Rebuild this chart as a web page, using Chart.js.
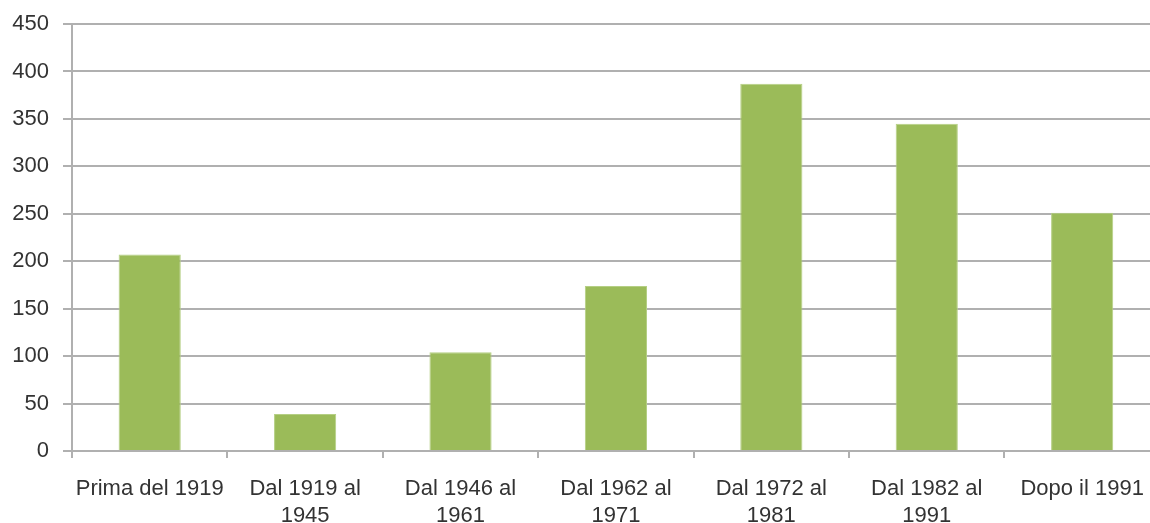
<!DOCTYPE html>
<html>
<head>
<meta charset="utf-8">
<script src="https://cdn.jsdelivr.net/npm/chart.js@4"></script>
<style>
  html, body { margin: 0; padding: 0; background: #fff; }
  #wrap { width: 1150px; height: 523px; overflow: hidden; }
</style>
</head>
<body>
<div id="wrap">
  <canvas id="myChart" width="1162" height="523"></canvas>
</div>
<script>
const categories = [
  'Prima del 1919',
  ['Dal 1919 al', '1945'],
  ['Dal 1946 al', '1961'],
  ['Dal 1962 al', '1971'],
  ['Dal 1972 al', '1981'],
  ['Dal 1982 al', '1991'],
  'Dopo il 1991'
];
const values = [207, 39, 104, 174, 387, 345, 251];
const yTicks = [0, 50, 100, 150, 200, 250, 300, 350, 400, 450];

const gridColor = '#b0b0b0';
const textColor = '#333333';
const fontFamily = '"Liberation Sans", Arial, sans-serif';

const config = {
  type: 'bar',
  data: {
    labels: categories,
    datasets: [{
      data: values,
      backgroundColor: '#9bbb59',
      borderColor: '#b5cf84',
      borderWidth: 1,
      barPercentage: 0.4,
      categoryPercentage: 1
    }]
  },
  options: {
    responsive: false,
    animation: false,
    layout: {
      padding: { top: 24, left: 0, right: 1, bottom: 0 }
    },
    scales: {
      x: {
        grid: {
          display: true,
          drawOnChartArea: false,
          color: gridColor,
          lineWidth: 2,
          tickLength: 7
        },
        border: { color: gridColor, width: 2 },
        ticks: {
          color: textColor,
          padding: 18,
          maxRotation: 0,
          autoSkip: false,
          font: { family: fontFamily, size: 22, lineHeight: 1.2 }
        },
        afterFit: (scale) => { scale.height = 72; }
      },
      y: {
        min: 0,
        max: 450,
        afterBuildTicks: (scale) => {
          scale.ticks = yTicks.map(v => ({ value: v }));
        },
        grid: {
          color: gridColor,
          lineWidth: 2,
          tickLength: 9
        },
        border: { color: gridColor, width: 2 },
        ticks: {
          color: textColor,
          padding: 14,
          font: { family: fontFamily, size: 22 }
        },
        afterFit: (scale) => {
          scale.width = 72;
          scale.paddingTop = 0;   // top gap is set by layout padding
        }
      }
    },
    plugins: {
      legend: { display: false },
      title: { display: false },
      tooltip: { enabled: false }
    }
  }
};

var myChart = new Chart(document.getElementById('myChart'), config);
</script>
</body>
</html>
